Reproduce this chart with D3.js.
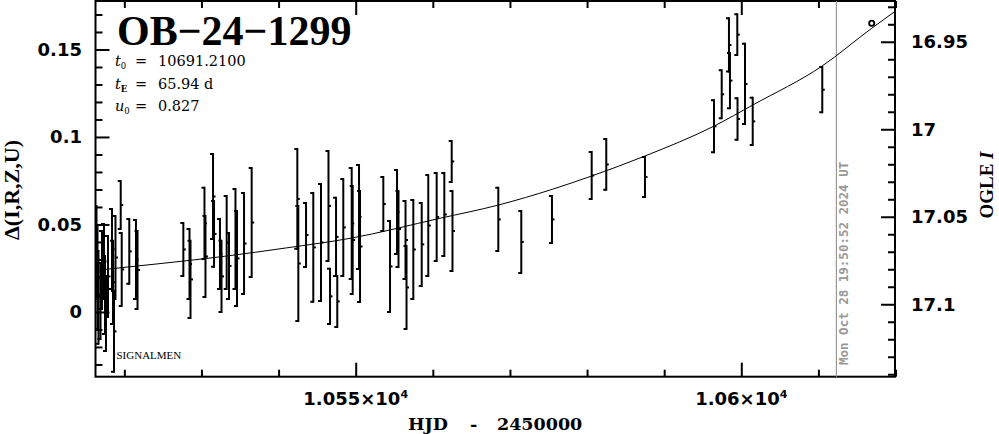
<!DOCTYPE html>
<html><head><meta charset="utf-8">
<script src="https://cdn.jsdelivr.net/npm/d3@7"></script>
<style>html,body{margin:0;padding:0;background:#fff;} svg{display:block;}</style>
</head><body>
<svg id="c" width="999" height="434"></svg>
<script>
// ---- data ----
const hjd = [
 10516.39,10516.52,10516.65,10516.91,10517.10,10517.36,10517.49,10517.62,10517.88,10518.40,10518.53,10518.66,10518.85,10519.53,10519.66,10520.64,10521.51,10521.71,
 10527.65,10528.45,10528.58,10530.39,10530.52,10531.50,10531.63,10532.40,10532.60,10533.27,10533.57,10534.41,10534.61,10535.52,10536.51,
 10542.43,10542.56,10543.56,10544.50,10545.50,10546.47,10546.67,10547.45,10547.61,10548.39,10549.48,10549.61,10550.43,10550.56,
 10553.58,10554.45,10555.36,10555.55,10556.46,10556.59,10557.47,10558.56,10559.41,10560.50,10561.49,10562.45,10562.55,
 10568.49,10571.47,10575.45,10580.60,10582.49,10587.51,10596.46,10597.46,10598.40,10598.53,10599.48,10599.51,10600.48,10601.48,10610.50
];
const delta = [
 0.0340,0.0197,0.0083,0.0063,0.0240,0.0289,0.0097,-0.0009,0.0203,0.0360,0.0169,-0.0111,0.0311,0.0611,0.0243,0.0346,0.0300,0.0240,
 0.0357,0.0274,0.0186,0.0506,0.0317,0.0660,0.0446,0.0331,0.0203,0.0397,0.0263,0.0417,0.0306,0.0391,0.0511,
 0.0646,0.0277,0.0440,0.0369,0.0397,0.0606,0.0089,0.0429,0.0060,0.0483,0.0506,0.0411,0.0543,0.0374,
 0.0617,0.0260,0.0571,0.0474,0.0411,0.0140,0.0357,0.0386,0.0494,0.0543,0.0557,0.0860,0.0463,
 0.0529,0.0400,0.0529,0.0780,0.0843,0.0771,0.1061,0.1244,0.1526,0.1322,0.1585,0.1103,0.1303,0.1089,0.1270
];
const err = [
 0.0271,0.0300,0.0271,0.0223,0.0229,0.0220,0.0229,0.0220,0.0237,0.0234,0.0243,0.0237,0.0243,0.0143,0.0214,0.0191,0.0231,0.0229,
 0.0157,0.0206,0.0226,0.0209,0.0237,0.0249,0.0194,0.0206,0.0209,0.0271,0.0194,0.0291,0.0277,0.0294,0.0317,
 0.0291,0.0334,0.0189,0.0317,0.0340,0.0320,0.0163,0.0229,0.0151,0.0283,0.0323,0.0314,0.0303,0.0323,
 0.0160,0.0266,0.0246,0.0223,0.0229,0.0243,0.0289,0.0243,0.0294,0.0257,0.0243,0.0123,0.0234,
 0.0186,0.0183,0.0140,0.0140,0.0151,0.0120,0.0154,0.0143,0.0158,0.0164,0.0122,0.0124,0.0235,0.0141,0.0135
];
// second data set (open circle, no error bar)
const otherHjd = [10616.91];
const otherDelta = [0.1650];
// model curve samples
const modelT = [10516.2,10525,10533,10541,10549.3,10560.9,10568.5,10575.5,10580.6,10587.5,10596.5,10601.5,10610.5,10616.9,10620.1];
const modelD = [0.0237,0.0278,0.0318,0.0366,0.0421,0.0535,0.0611,0.0701,0.0777,0.0891,0.1063,0.1183,0.1406,0.1621,0.1723];
// axes
const xMajor = [10550, 10600];
const xMajorLabels = ["1.055×10", "1.06×10"];
const xMinor = [10520,10530,10540,10560,10570,10580,10590,10610,10620];
const yLeftMajor = [0, 0.05, 0.1, 0.15];
const yLeftLabels = ["0", "0.05", "0.1", "0.15"];
const yRightMajor = [16.95, 17, 17.05, 17.1];
const yRightLabels = ["16.95", "17", "17.05", "17.1"];
const baseMag = 17.1044;
const nowHJD = 10612.33;
const title = "OB\u221224\u22121299";
const paramNames = [["t","0"],["t","E"],["u","0"]];
const paramValues = ["10691.2100", "65.94 d", "0.827"];
const dateText = "Mon Oct 28 19:50:52 2024 UT";

// ---- layout ----
const L = 95.5, R = 895, T = 1, B = 376.7;
const svg = d3.select("#c");
const x = d3.scaleLinear().domain([10516.26, 10619.93]).range([L, R]);
const y = d3.scaleLinear().domain([-0.0370, 0.1777]).range([B, T]);
const yR = d3.scaleLinear().domain([baseMag + 0.0370, baseMag - 0.1777]).range([B, T]);

function styleAxis(g) {
  g.select(".domain").remove();
  g.selectAll("line").attr("stroke", "#000").attr("stroke-width", 2);
  g.selectAll("text").remove();
}
const yMinorL = d3.range(-3, 18).map(i => i / 100).filter(v => !yLeftMajor.some(m => Math.abs(m - v) < 1e-6));
const rMinor = d3.range(1693, 1715).map(i => i / 100).filter(v => !yRightMajor.some(m => Math.abs(m - v) < 1e-6));

svg.append("g").attr("transform", `translate(0,${B})`).call(d3.axisBottom(x).tickValues(xMinor).tickSize(-7)).call(styleAxis);
svg.append("g").attr("transform", `translate(0,${B})`).call(d3.axisBottom(x).tickValues(xMajor).tickSize(-14)).call(styleAxis);
svg.append("g").attr("transform", `translate(0,${T})`).call(d3.axisTop(x).tickValues(xMinor).tickSize(-7)).call(styleAxis);
svg.append("g").attr("transform", `translate(0,${T})`).call(d3.axisTop(x).tickValues(xMajor).tickSize(-14)).call(styleAxis);
svg.append("g").attr("transform", `translate(${L},0)`).call(d3.axisLeft(y).tickValues(yMinorL).tickSize(-7)).call(styleAxis);
svg.append("g").attr("transform", `translate(${L},0)`).call(d3.axisLeft(y).tickValues(yLeftMajor).tickSize(-14)).call(styleAxis);
svg.append("g").attr("transform", `translate(${R},0)`).call(d3.axisRight(yR).tickValues(rMinor).tickSize(-7)).call(styleAxis);
svg.append("g").attr("transform", `translate(${R},0)`).call(d3.axisRight(yR).tickValues(yRightMajor).tickSize(-14)).call(styleAxis);

// frame
svg.append("rect").attr("x", L).attr("y", T).attr("width", R - L).attr("height", B - T)
  .attr("fill", "none").attr("stroke", "#000").attr("stroke-width", 2);

// tick labels
const tickFont = "'DejaVu Sans', sans-serif";
svg.append("g").selectAll("text").data(yLeftMajor).join("text")
  .attr("x", 82).attr("y", d => y(d)).attr("dy", "0.36em").attr("text-anchor", "end")
  .attr("font-family", tickFont).attr("font-weight", "bold").attr("font-size", 18)
  .text((d, i) => yLeftLabels[i]);
svg.append("g").selectAll("text").data(yRightMajor).join("text")
  .attr("x", 911).attr("y", d => yR(d)).attr("dy", "0.36em").attr("text-anchor", "start")
  .attr("font-family", tickFont).attr("font-weight", "bold").attr("font-size", 18)
  .text((d, i) => yRightLabels[i]);
const xl = svg.append("g").selectAll("text").data(xMajor).join("text")
  .attr("x", d => x(d)).attr("y", 405).attr("text-anchor", "middle")
  .attr("font-family", tickFont).attr("font-weight", "bold").attr("font-size", 18);
xl.append("tspan").text((d, i) => xMajorLabels[i]);
xl.append("tspan").attr("dy", -7).attr("font-size", 11).text("4");

// axis titles
svg.append("text").attr("transform", "translate(19,190) rotate(-90)").attr("text-anchor", "middle")
  .attr("font-family", "'Liberation Serif', serif").attr("font-weight", "bold").attr("font-size", 22)
  .text("\u0394(I,R,Z,U)");
const rt = svg.append("text").attr("transform", "translate(993,185) rotate(-90)").attr("text-anchor", "middle")
  .attr("font-family", "'Liberation Serif', serif").attr("font-weight", "bold").attr("font-size", 19);
rt.append("tspan").text("OGLE ");
rt.append("tspan").attr("font-style", "italic").text("I");
const xt = svg.append("text").attr("y", 430)
  .attr("font-family", "'DejaVu Serif', serif").attr("font-weight", "bold").attr("font-size", 17.5);
xt.append("tspan").attr("x", 408).text("HJD");
xt.append("tspan").attr("x", 470).text("-");
xt.append("tspan").attr("x", 497).text("2450000");

// gray "now" line and date
svg.append("line").attr("x1", x(nowHJD)).attr("x2", x(nowHJD)).attr("y1", T).attr("y2", B)
  .attr("stroke", "#999").attr("stroke-width", 1.2);
svg.append("text").attr("transform", "translate(848,365) rotate(-90)")
  .attr("font-family", "'DejaVu Sans Mono', monospace").attr("font-weight", "bold").attr("font-size", 12.5)
  .attr("fill", "#999").text(dateText);

// model curve
const pts = modelT.map((t, i) => [t, modelD[i]]);
const clipId = "clipP";
svg.append("clipPath").attr("id", clipId).append("rect").attr("x", L).attr("y", T).attr("width", R - L).attr("height", B - T);
svg.append("path").datum(pts).attr("clip-path", `url(#${clipId})`)
  .attr("d", d3.line().x(d => x(d[0])).y(d => y(d[1])).curve(d3.curveMonotoneX))
  .attr("fill", "none").attr("stroke", "#000").attr("stroke-width", 1);

// error bars
const data = hjd.map((t, i) => ({ t, d: delta[i], e: err[i] }));
const eb = svg.append("g").attr("clip-path", `url(#${clipId})`);
const bars = eb.selectAll("g").data(data).join("g");
bars.append("line").attr("x1", d => x(d.t)).attr("x2", d => x(d.t))
  .attr("y1", d => y(d.d + d.e)).attr("y2", d => y(d.d - d.e))
  .attr("stroke", "#000").attr("stroke-width", 2);
bars.append("line").attr("x1", d => x(d.t) - 3).attr("x2", d => x(d.t))
  .attr("y1", d => y(d.d + d.e) + 1).attr("y2", d => y(d.d + d.e) + 1)
  .attr("stroke", "#000").attr("stroke-width", 2);
bars.append("line").attr("x1", d => x(d.t) - 3).attr("x2", d => x(d.t))
  .attr("y1", d => y(d.d - d.e) - 1).attr("y2", d => y(d.d - d.e) - 1)
  .attr("stroke", "#000").attr("stroke-width", 2);
bars.append("rect").attr("x", d => x(d.t)).attr("y", d => y(d.d) - 1).attr("width", 2.5).attr("height", 2).attr("fill", "#000");

// other data set: open circles
svg.append("g").selectAll("circle").data(otherHjd).join("circle")
  .attr("cx", d => x(d)).attr("cy", (d, i) => y(otherDelta[i])).attr("r", 2.6)
  .attr("fill", "none").attr("stroke", "#000").attr("stroke-width", 1.8);

// title & parameters
svg.append("text").attr("x", 117).attr("y", 45)
  .attr("font-family", "'Liberation Serif', serif").attr("font-weight", "bold").attr("font-size", 42)
  .text(title);
const pf = "'DejaVu Serif', serif";
const pY = [66, 89, 111];
paramNames.forEach((p, i) => {
  const t = svg.append("text").attr("y", pY[i]).attr("font-family", pf).attr("font-size", 14.5);
  t.append("tspan").attr("x", 115).attr("font-style", "italic").text(p[0]);
  t.append("tspan").attr("dy", 3).attr("font-size", 8.5).attr("font-weight", p[1] === "E" ? "bold" : "normal").text(p[1]);
  t.append("tspan").attr("x", 135).attr("dy", -3).text("=");
  t.append("tspan").attr("x", 158).text(paramValues[i]);
});
svg.append("text").attr("x", 116.5).attr("y", 359)
  .attr("font-family", "'Liberation Serif', serif").attr("font-size", 11).text("SIGNALMEN");
</script>
</body></html>
